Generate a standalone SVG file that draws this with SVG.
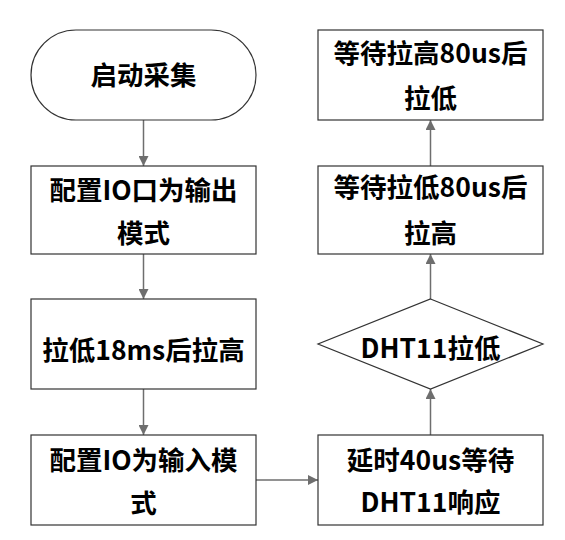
<svg xmlns="http://www.w3.org/2000/svg" width="565" height="540" viewBox="0 0 565 540">
<defs>
<style>
.n{fill:#fff;stroke:#333;stroke-width:1.2}
.t{font-family:"Noto Sans CJK SC","Microsoft YaHei",sans-serif;font-weight:bold;font-size:26.5px;fill:#000;text-anchor:middle}
.c{stroke:#6e6e6e;stroke-width:1.5;fill:none;marker-end:url(#ah)}
</style>
<marker id="ah" viewBox="0 0 10 10" refX="10" refY="5" markerWidth="10" markerHeight="10" markerUnits="userSpaceOnUse" orient="auto">
<path d="M0,0 L10,5 L0,10 Z" fill="#6e6e6e"/>
</marker>
</defs>
<rect width="565" height="540" fill="#fff"/>
<g id="connectors">
<path class="c" d="M143.5,120 V166"/>
<path class="c" d="M143.5,254 V299"/>
<path class="c" d="M143.5,389 V435"/>
<path class="c" d="M256,480 H318"/>
<path class="c" d="M430.5,435 V389"/>
<path class="c" d="M430.5,299 V254"/>
<path class="c" d="M430.5,166 V120"/>
</g>
<g id="start">
<rect class="n" x="31" y="30" width="225" height="90" rx="45" ry="45"/>
<text class="t" x="143.5" y="85">启动采集</text>
</g>
<g id="cfg-out">
<rect class="n" x="31" y="166" width="225" height="88"/>
<text class="t" x="143.5" y="200">配置IO口为输出</text>
<text class="t" x="143.5" y="243">模式</text>
</g>
<g id="pull-low">
<rect class="n" x="31" y="299" width="225" height="90"/>
<text class="t" x="143.5" y="360">拉低18ms后拉高</text>
</g>
<g id="cfg-in">
<rect class="n" x="31" y="435" width="225" height="90"/>
<text class="t" x="143.5" y="470">配置IO为输入模</text>
<text class="t" x="143.5" y="513">式</text>
</g>
<g id="delay">
<rect class="n" x="318" y="435" width="225" height="90"/>
<text class="t" x="430.5" y="470">延时40us等待</text>
<text class="t" x="430.5" y="512">DHT11响应</text>
</g>
<g id="dht-low">
<polygon class="n" points="430.5,299 543,344 430.5,389 318,344"/>
<text class="t" x="430.5" y="358">DHT11拉低</text>
</g>
<g id="wait-low">
<rect class="n" x="318" y="166" width="225" height="88"/>
<text class="t" x="430.5" y="197">等待拉低80us后</text>
<text class="t" x="430.5" y="243">拉高</text>
</g>
<g id="wait-high">
<rect class="n" x="318" y="30" width="225" height="90"/>
<text class="t" x="430.5" y="63">等待拉高80us后</text>
<text class="t" x="430.5" y="108">拉低</text>
</g>
</svg>
